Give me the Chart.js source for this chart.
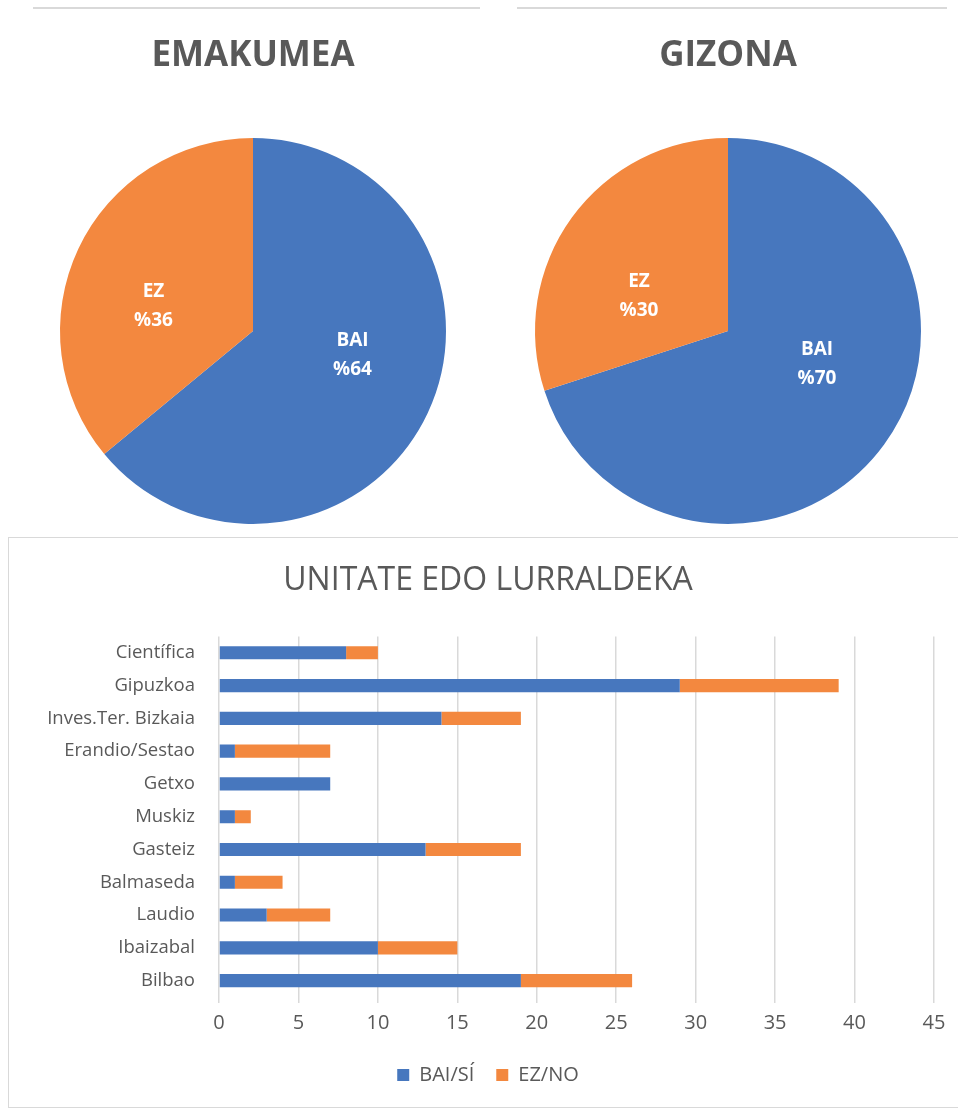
<!DOCTYPE html>
<html>
<head>
<meta charset="utf-8">
<script src="https://cdn.jsdelivr.net/npm/chart.js@4.4.1/dist/chart.umd.min.js"></script>
<style>
  body { margin: 0; background: #fff; width: 958px; height: 1108px; overflow: hidden; position: relative; }
  .box { position: absolute; }
  .topline { position: absolute; top: 7px; height: 2px; background: #d9d9d9; }
  #barBox { left: 8px; top: 537px; width: 960px; height: 571px; border: 1px solid #d9d9d9; box-sizing: border-box; }
</style>
</head>
<body>

<div class="topline" style="left:33px; width:447px;"></div>
<div class="topline" style="left:517px; width:430px;"></div>

<div class="box" style="left:23px; top:0; width:460px; height:530px;"><canvas id="pie-women"></canvas></div>
<div class="box" style="left:498px; top:0; width:460px; height:530px;"><canvas id="pie-men"></canvas></div>

<div class="box" id="barBox"><canvas id="bar-units"></canvas></div>

<script>
// pie data
const pieLabels = ['BAI', 'EZ'];
const emakumeaValues = [64, 36];
const gizonaValues = [70, 30];

// bar data
const units = ['Científica', 'Gipuzkoa', 'Inves.Ter. Bizkaia', 'Erandio/Sestao', 'Getxo', 'Muskiz',
    'Gasteiz', 'Balmaseda', 'Laudio', 'Ibaizabal', 'Bilbao'];
const baiValues = [8, 29, 14, 1, 7, 1, 13, 1, 3, 10, 19];
const ezValues = [2, 10, 5, 6, 0, 1, 6, 3, 4, 5, 7];
const seriesNames = ['BAI/SÍ', 'EZ/NO'];

const blue = '#4777be';
const orange = '#f3883f';
const textGray = '#595959';
const fontFamily = "'Open Sans', 'DejaVu Sans', sans-serif";

// write "BAI" / "%64" inside each slice
const sliceLabels = {
    id: 'sliceLabels',
    afterDatasetsDraw(chart) {
        let ctx = chart.ctx;
        let meta = chart.getDatasetMeta(0);
        let values = chart.data.datasets[0].data;
        ctx.save();
        ctx.fillStyle = '#fff';
        ctx.font = `bold 19px ${fontFamily}`;
        ctx.textAlign = 'center';
        ctx.textBaseline = 'middle';
        meta.data.forEach((arc, i) => {
            let mid = (arc.startAngle + arc.endAngle) / 2;
            let x = arc.x + Math.cos(mid) * arc.outerRadius * 0.57;
            let y = arc.y + Math.sin(mid) * arc.outerRadius * 0.3;
            ctx.fillText(chart.data.labels[i], x, y - 15);
            ctx.fillText('%' + values[i], x, y + 14);
        });
        ctx.restore();
    }
};

function makePie(id, title, values) {
    new Chart(document.getElementById(id), {
        type: 'pie',
        data: {
            labels: pieLabels,
            datasets: [{
                data: values,
                backgroundColor: [blue, orange],
                borderWidth: 0
            }]
        },
        options: {
            responsive: true,
            maintainAspectRatio: false,
            animation: false,
            layout: { padding: { bottom: 6 } },
            plugins: {
                legend: { display: false },
                tooltip: { enabled: false },
                title: {
                    display: true,
                    text: title,
                    color: textGray,
                    font: { family: fontFamily, size: 35, weight: 'bold', lineHeight: 1.2 },
                    padding: { top: 35, bottom: 61 }
                }
            }
        },
        plugins: [sliceLabels]
    });
}

makePie('pie-women', 'EMAKUMEA', emakumeaValues);
makePie('pie-men', 'GIZONA', gizonaValues);

// stacked horizontal bars
new Chart(document.getElementById('bar-units'), {
    type: 'bar',
    data: {
        labels: units,
        datasets: [{
            label: seriesNames[0],
            data: baiValues,
            backgroundColor: blue,
            barPercentage: 0.5,
            categoryPercentage: 0.8
        }, {
            label: seriesNames[1],
            data: ezValues,
            backgroundColor: orange,
            barPercentage: 0.5,
            categoryPercentage: 0.8
        }]
    },
    options: {
        indexAxis: 'y',
        responsive: true,
        maintainAspectRatio: false,
        animation: false,
        layout: { padding: { left: 0, right: 0, bottom: 12 } },
        scales: {
            x: {
                stacked: true,
                min: 0,
                max: 45,
                ticks: { stepSize: 5, color: textGray, padding: 8, font: { family: fontFamily, size: 20 } },
                grid: { color: '#d9d9d9', lineWidth: 1.5, tickLength: 6, tickColor: '#d9d9d9' },
                border: { display: false }
            },
            y: {
                stacked: true,
                afterFit(scale) { scale.width = 210; },
                ticks: { color: textGray, padding: 24, font: { family: fontFamily, size: 18.5 } },
                grid: { display: false, drawTicks: false },
                border: { display: false }
            },
            // empty strip on the right so the plot ends before the box edge
            yRight: {
                axis: 'y',
                position: 'right',
                afterFit(scale) { scale.width = 33; },
                ticks: { display: false },
                grid: { display: false, drawTicks: false },
                border: { display: false }
            }
        },
        plugins: {
            tooltip: { enabled: false },
            title: {
                display: true,
                text: 'UNITATE EDO LURRALDEKA',
                color: textGray,
                font: { family: fontFamily, size: 32, weight: 'normal', lineHeight: 1.2 },
                padding: { top: 24, bottom: 36 }
            },
            legend: {
                position: 'bottom',
                labels: {
                    color: textGray,
                    boxWidth: 12,
                    boxHeight: 12,
                    padding: 22,
                    font: { family: fontFamily, size: 20 }
                }
            }
        }
    }
});
</script>
</body>
</html>
